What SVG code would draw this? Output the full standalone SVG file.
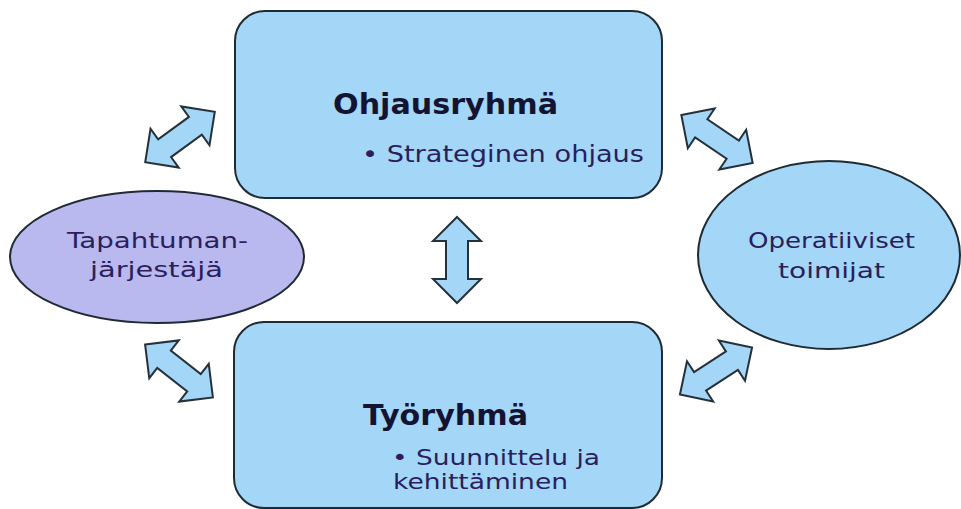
<svg xmlns="http://www.w3.org/2000/svg" width="961" height="509" viewBox="0 0 961 509">
<style>
.box{fill:#a4d6f7;stroke:#1f2b33;stroke-width:2}
.lav{fill:#b9b9f0;stroke:#1f2b33;stroke-width:2}
.arr{fill:#a4d6f7;stroke:#25313a;stroke-width:2;stroke-linejoin:miter}
.t{font-family:"DejaVu Sans","Liberation Sans",sans-serif;fill:#2a1f5c}
.b{font-family:"DejaVu Sans","Liberation Sans",sans-serif;font-weight:bold;fill:#141432}
</style>
<defs>
<path id="dbl" d="M-43,0 L-19,-24 L-19,-11 L19,-11 L19,-24 L43,0 L19,24 L19,11 L-19,11 L-19,24 Z"/>
</defs>
<rect width="961" height="509" fill="#ffffff"/>
<g id="connectors">
<use href="#dbl" class="arr" transform="translate(180,137) rotate(-36)"/>
<use href="#dbl" class="arr" transform="translate(717,139) rotate(34)"/>
<use href="#dbl" class="arr" transform="translate(716,371) rotate(-33)"/>
<use href="#dbl" class="arr" transform="translate(179,371) rotate(38)"/>
<use href="#dbl" class="arr" transform="translate(457,260) rotate(90)"/>
</g>
<g id="ohjausryhma">
<rect class="box" x="235" y="11" width="427" height="187" rx="30"/>
<text class="b" x="333" y="114" font-size="29" textLength="225" lengthAdjust="spacingAndGlyphs">Ohjausryhmä</text>
<text class="t" x="362" y="162" font-size="23" textLength="282" lengthAdjust="spacingAndGlyphs">• Strateginen ohjaus</text>
</g>
<g id="tyoryhma">
<rect class="box" x="234" y="322" width="428" height="186" rx="30"/>
<text class="b" x="363" y="425" font-size="29" textLength="165" lengthAdjust="spacingAndGlyphs">Työryhmä</text>
<text class="t" x="392" y="465" font-size="22" textLength="208" lengthAdjust="spacingAndGlyphs">• Suunnittelu ja</text>
<text class="t" x="393" y="489" font-size="22" textLength="175" lengthAdjust="spacingAndGlyphs">kehittäminen</text>
</g>
<g id="tapahtumanjarjestaja">
<ellipse class="lav" cx="157" cy="257" rx="147" ry="66"/>
<text class="t" x="67" y="248" font-size="21" textLength="181" lengthAdjust="spacingAndGlyphs">Tapahtuman-</text>
<text class="t" x="90" y="277" font-size="21" textLength="133" lengthAdjust="spacingAndGlyphs">järjestäjä</text>
</g>
<g id="operatiiviset">
<ellipse class="box" cx="829" cy="255" rx="131" ry="94"/>
<text class="t" x="748" y="248" font-size="21" textLength="167" lengthAdjust="spacingAndGlyphs">Operatiiviset</text>
<text class="t" x="778" y="278" font-size="21" textLength="107" lengthAdjust="spacingAndGlyphs">toimijat</text>
</g>
</svg>
